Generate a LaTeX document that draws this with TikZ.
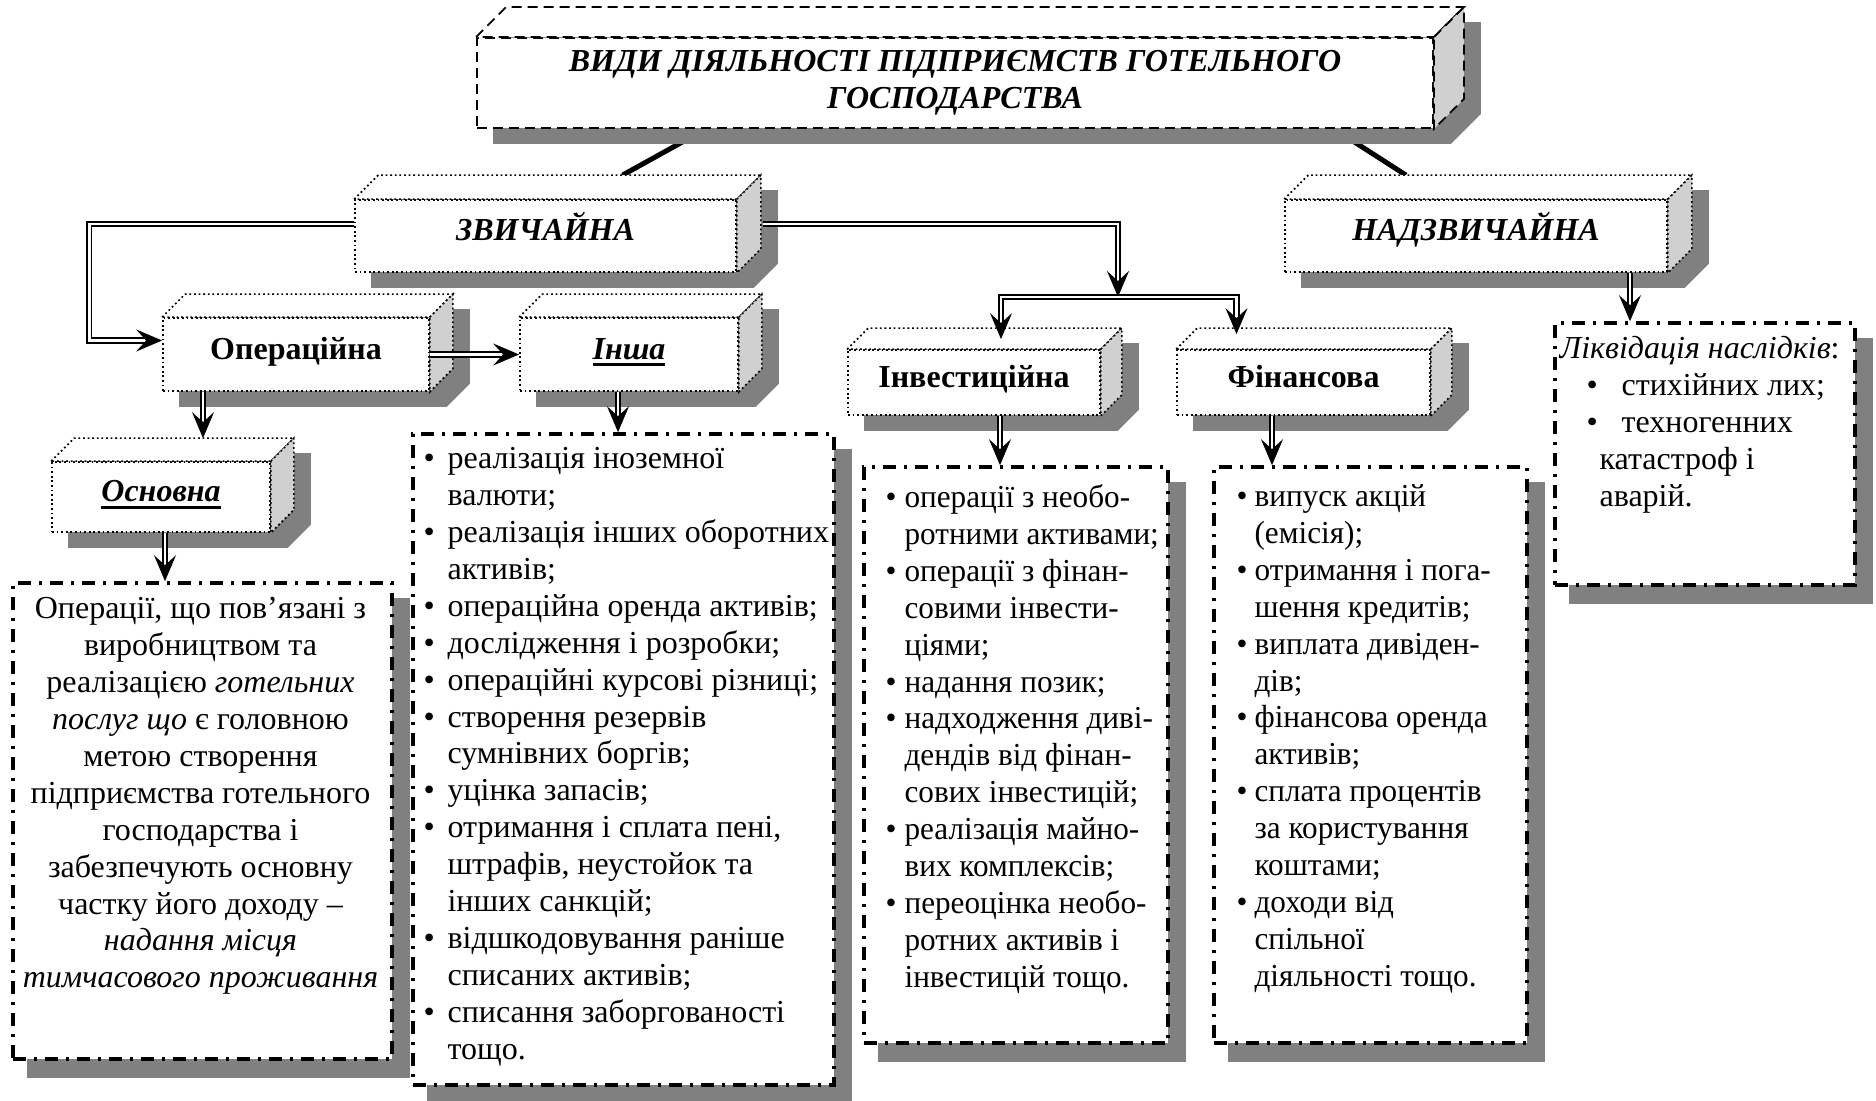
\documentclass[tikz,border=0pt]{standalone}
\usepackage{fontspec}
\setmainfont{Liberation Serif}
\newfontfamily\narrowserif[FakeStretch=0.975]{Liberation Serif}
\usetikzlibrary{arrows.meta,positioning,calc}
\definecolor{shadegray}{RGB}{128,128,128}
\definecolor{sidegray}{RGB}{208,208,208}
\pgfdeclarelayer{back}
\pgfdeclarelayer{shade}
\pgfsetlayers{back,shade,main}
\newlength{\bulw}
\newcommand{\itm}{\makebox[\bulw][l]{•}}
\newcommand{\cont}{\hspace*{\bulw}}
\newcommand{\thickul}[1]{\setbox0=\hbox{#1}\rlap{\copy0}\raisebox{-3.5pt}{\rule{\wd0}{1.3pt}}}

\begin{document}
\begin{tikzpicture}[x=0.5pt, y=-0.5pt,
    cube/.style={draw, dash pattern=on 0.9pt off 1.4pt, line width=0.85pt, fill=white, inner sep=0pt, text height=11pt, text depth=6.4pt, font=\fontsize{16}{18.4}\selectfont\bfseries},
    titlebox/.style={draw, dash pattern=on 5pt off 3pt, line width=0.9pt, fill=white, inner sep=0pt, align=center, font=\fontsize{16}{18.4}\selectfont\bfseries\itshape},
    cubeedge/.style={dash pattern=on 0.9pt off 1.4pt, line width=0.85pt},
    titleedge/.style={dash pattern=on 5pt off 3pt, line width=0.9pt},
    txtbox/.style={draw, line width=1.8pt, dash pattern=on 6.5pt off 4pt on 1.5pt off 4pt, fill=white, inner sep=0pt},
    listtext/.style={anchor=north west, inner sep=0pt, align=left, font=\fontsize{16}{18.45}\selectfont\setlength{\bulw}{#1}},
    listtext/.default=12pt,
    narrowlist/.style={anchor=north west, inner sep=0pt, align=left, font=\narrowserif\fontsize{16}{18.45}\selectfont\setlength{\bulw}{#1}},
    dblline/.style={double, double distance=1.4pt, line width=0.9pt},
    dblarrow/.style={dblline, -{Stealth[length=13pt, width=11pt, inset=5pt]}},
    stem/.style={line width=2.5pt}
]
\useasboundingbox (0,0) rectangle (1876,1101);

% 3d boxes
\node[titlebox, minimum width=478pt, minimum height=45pt] (title) at (955,83) {ВИДИ ДІЯЛЬНОСТІ ПІДПРИЄМСТВ ГОТЕЛЬНОГО\\ГОСПОДАРСТВА};
\node[cube, minimum width=190.5pt, minimum height=36pt] (usual) at (545.5,236) {\itshape ЗВИЧАЙНА};
\node[cube, minimum width=191pt, minimum height=36pt] (extra) at (1476,236) {\itshape НАДЗВИЧАЙНА};
\node[cube, minimum width=133pt, minimum height=36.5pt] (oper) at (296,354.5) {Операційна};
\node[cube, minimum width=109pt, minimum height=36.5pt] (other) at (629,354.5) {\itshape\thickul{Інша}};
\node[cube, minimum width=126pt, minimum height=32.5pt] (invest) at (974,382.5) {Інвестиційна};
\node[cube, minimum width=126.5pt, minimum height=32.5pt] (finance) at (1303.5,382.5) {Фінансова};
\node[cube, minimum width=109pt, minimum height=35pt] (main) at (161,497) {\itshape\thickul{Основна}};

\foreach \n/\d/\s in {title/30/titleedge, usual/24/cubeedge, extra/24/cubeedge, oper/23/cubeedge, other/23/cubeedge, invest/21/cubeedge, finance/21/cubeedge, main/23/cubeedge}{
  \begin{pgfonlayer}{shade}
    \fill[shadegray] ($(\n.south west)+(17,15)$) -- ($(\n.north west)+(17,15)$) -- ($(\n.north west)+(17+\d,15-\d)$) -- ($(\n.north east)+(17+\d,15-\d)$) -- ($(\n.south east)+(17+\d,15-\d)$) -- ($(\n.south east)+(17,15)$) -- cycle;
  \end{pgfonlayer}
  \draw[\s, fill=white] (\n.north west) -- ++(\d,-\d) -- ($(\n.north east)+(\d,-\d)$) -- (\n.north east) -- cycle;
  \draw[\s, fill=sidegray] (\n.north east) -- ++(\d,-\d) -- ($(\n.south east)+(\d,-\d)$) -- (\n.south east) -- cycle;
}

% text boxes
\node[txtbox, minimum width=189.5pt, minimum height=238pt] (maintxt) at (202.5,821) {};
\node[txtbox, minimum width=210.5pt, minimum height=325.5pt] (othertxt) at (623.5,759.5) {};
\node[txtbox, minimum width=152pt, minimum height=288pt] (investtxt) at (1016,755) {};
\node[txtbox, minimum width=156.5pt, minimum height=288pt] (financetxt) at (1370.5,755) {};
\node[txtbox, minimum width=150pt, minimum height=131pt] (extratxt) at (1705,454) {};

\foreach \n in {maintxt, othertxt, investtxt, financetxt, extratxt}{
  \begin{pgfonlayer}{shade}
    \fill[shadegray] ($(\n.south west)+(16,17)$) rectangle ($(\n.north east)+(16,17)$);
  \end{pgfonlayer}
}

\node[anchor=north, inner sep=0pt, align=center, font=\fontsize{16}{18.45}\selectfont] (maintext) at ($(maintxt.north)+(-2,16)$) {Операції, що пов’язані з\\виробництвом та\\реалізацією \textit{готельних}\\\textit{послуг що} є головною\\метою створення\\підприємства готельного\\господарства і\\забезпечують основну\\частку його доходу –\\\textit{надання місця}\\\textit{тимчасового проживання}};

\node[listtext=12pt] (othertext) at ($(othertxt.north west)+(12,15)$) {\itm реалізація іноземної\\\cont валюти;\\\itm реалізація інших оборотних\\\cont активів;\\\itm операційна оренда активів;\\\itm дослідження і розробки;\\\itm операційні курсові різниці;\\\itm створення резервів\\\cont сумнівних боргів;\\\itm уцінка запасів;\\\itm отримання і сплата пені,\\\cont штрафів, неустойок та\\\cont інших санкцій;\\\itm відшкодовування раніше\\\cont списаних активів;\\\itm списання заборгованості\\\cont тощо.};

\node[narrowlist=9.5pt] (investtext) at ($(investtxt.north west)+(23,19)$) {\itm операції з необо-\\\cont ротними активами;\\\itm операції з фінан-\\\cont совими інвести-\\\cont ціями;\\\itm надання позик;\\\itm надходження диві-\\\cont дендів від фінан-\\\cont сових інвестицій;\\\itm реалізація майно-\\\cont вих комплексів;\\\itm переоцінка необо-\\\cont ротних активів і\\\cont інвестицій тощо.};

\node[narrowlist=9pt] (financetext) at ($(financetxt.north west)+(24,19)$) {\itm випуск акцій\\\cont (емісія);\\\itm отримання і пога-\\\cont шення кредитів;\\\itm виплата дивіден-\\\cont дів;\\\itm фінансова оренда\\\cont активів;\\\itm сплата процентів\\\cont за користування\\\cont коштами;\\\itm доходи від\\\cont спільної\\\cont діяльності тощо.};

\node[listtext] (extratext) at ($(extratxt.north west)+(6,15)$) {\textit{Ліквідація наслідків}:\\\hspace*{13.5pt}\makebox[17.5pt][l]{•}стихійних лих;\\\hspace*{13.5pt}\makebox[17.5pt][l]{•}техногенних\\\hspace*{20pt}катастроф і\\\hspace*{20pt}аварій.};

% connectors
\begin{pgfonlayer}{back}
\draw[stem] ($(title.south)+(-249,0)$) -- ($(usual.north)+(77,-24)$);
\draw[stem] ($(title.south)+(379,0)$) -- ($(extra.north)+(-70,-24)$);
\end{pgfonlayer}

\coordinate (fork) at (1118,297);
\draw[dblarrow] ($(usual.west)+(0,-12)$) -- ++(-265,0) |- ($(oper.west)+(0,-14)$);
\draw[dblarrow] ($(usual.east)+(26,-12)$) -| (fork);
\draw[dblarrow] (fork) -| ($(invest.north)+(27,-10)$);
\draw[dblarrow] (fork) -| ($(finance.north)+(-67,-15)$);
\draw[dblarrow] (oper.east) -- (other.west);
\draw[dblarrow] ($(oper.south)+(-93,0)$) -- ($(main.north)+(42,-23)$);
\draw[dblarrow] ($(main.south)+(4,0)$) -- ($(maintxt.north)+(-37.5,0)$);
\draw[dblarrow] ($(other.south)+(-11,0)$) -- ($(othertxt.north)+(-5.5,0)$);
\draw[dblarrow] ($(invest.south)+(26,0)$) -- ($(investtxt.north)+(-16,0)$);
\draw[dblarrow] ($(finance.south)+(-31.5,0)$) -- ($(financetxt.north)+(-98.5,0)$);
\draw[dblarrow] ($(extra.south)+(154,0)$) -- ($(extratxt.north)+(-75,0)$);

\end{tikzpicture}
\end{document}
